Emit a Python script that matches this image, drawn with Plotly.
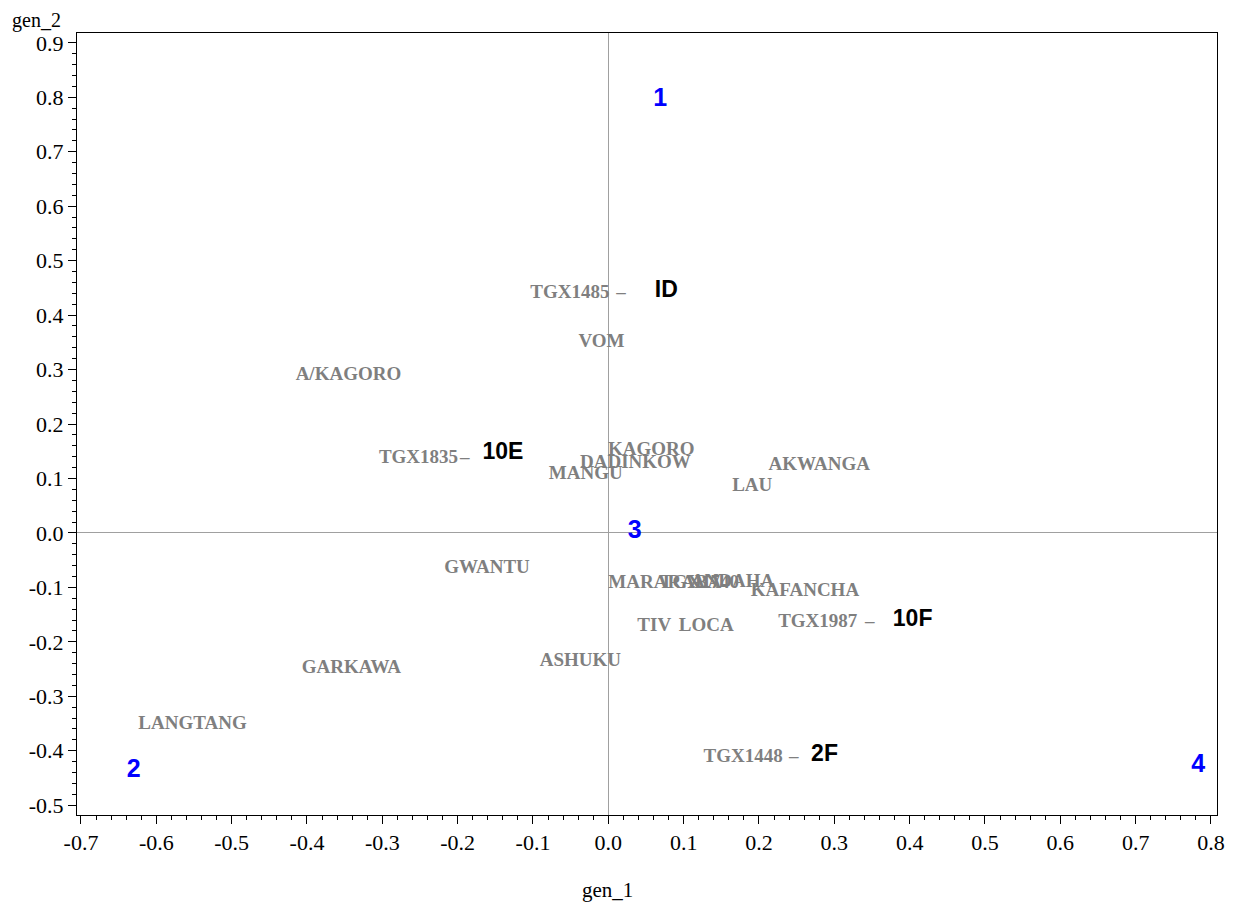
import plotly.graph_objects as go

# Gray point labels (genotypes / locations)
point_labels = ["TGX1485", "VOM", "A/KAGORO", "TGX1835", "KAGORO", "DADINKOW", "MANGU",
                "AKWANGA", "LAU", "GWANTU", "MARARABA", "TGX1740", "ANDAHA", "KAFANCHA",
                "TIV", "LOCA", "TGX1987", "ASHUKU", "GARKAWA", "LANGTANG", "TGX1448"]
point_x = [-0.051, -0.009, -0.345, -0.252, 0.057, 0.036, -0.030,
           0.280, 0.191, -0.161, 0.075, 0.121, 0.165, 0.261,
           0.061, 0.130, 0.278, -0.037, -0.341, -0.552, 0.179]
point_y = [0.441, 0.350, 0.290, 0.138, 0.152, 0.128, 0.108,
           0.125, 0.086, -0.064, -0.092, -0.092, -0.090, -0.107,
           -0.171, -0.171, -0.164, -0.235, -0.248, -0.351, -0.412]

# Gray dashes pointing to black codes
dash_x = [0.017, -0.1906, 0.347, 0.246]
dash_y = [0.441, 0.138, -0.164, -0.412]

# Black code annotations
code_labels = ["ID", "10E", "10F", "2F"]
code_x = [0.077, -0.140, 0.404, 0.287]
code_y = [0.443, 0.147, -0.161, -0.408]

# Blue numbered labels
num_labels = ["1", "2", "3", "4"]
num_x = [0.069, -0.630, 0.035, 0.783]
num_y = [0.795, -0.437, 0.002, -0.427]

# Ticks
x_tickvals = [-0.7, -0.6, -0.5, -0.4, -0.3, -0.2, -0.1, 0.0, 0.1, 0.2, 0.3, 0.4, 0.5, 0.6, 0.7, 0.8]
x_ticktext = ["-0.7", "-0.6", "-0.5", "-0.4", "-0.3", "-0.2", "-0.1", "0.0",
              "0.1", "0.2", "0.3", "0.4", "0.5", "0.6", "0.7", "0.8"]
y_tickvals = [-0.5, -0.4, -0.3, -0.2, -0.1, 0.0, 0.1, 0.2, 0.3, 0.4, 0.5, 0.6, 0.7, 0.8, 0.9]
y_ticktext = ["-0.5", "-0.4", "-0.3", "-0.2", "-0.1", "0.0", "0.1", "0.2",
              "0.3", "0.4", "0.5", "0.6", "0.7", "0.8", "0.9"]

gray = "#7f7f7f"
serif = "Liberation Serif, Times New Roman, serif"
sans = "Liberation Sans, Arial, sans-serif"

fig = go.Figure()
fig.add_trace(go.Scatter(x=point_x, y=point_y, text=point_labels, mode="text",
                         textposition="middle center",
                         textfont=dict(family=serif, size=19, color=gray, weight="bold"),
                         showlegend=False, hoverinfo="skip"))
fig.add_trace(go.Scatter(x=dash_x, y=dash_y, text=["–"] * len(dash_x), mode="text",
                         textposition="middle center",
                         textfont=dict(family=serif, size=19, color=gray, weight="bold"),
                         showlegend=False, hoverinfo="skip"))
fig.add_trace(go.Scatter(x=code_x, y=code_y, text=code_labels, mode="text",
                         textposition="middle center",
                         textfont=dict(family=sans, size=23, color="black", weight="bold"),
                         showlegend=False, hoverinfo="skip"))
fig.add_trace(go.Scatter(x=num_x, y=num_y, text=num_labels, mode="text",
                         textposition="middle center",
                         textfont=dict(family=sans, size=25, color="blue", weight="bold"),
                         showlegend=False, hoverinfo="skip"))

axis_common = dict(showgrid=False, showline=True, linecolor="black", linewidth=1,
                   mirror=True, ticks="outside", ticklen=8, tickcolor="black",
                   zeroline=True, zerolinecolor="#a0a0a0", zerolinewidth=1,
                   tickfont=dict(family=serif, size=22, color="black"))

fig.update_xaxes(range=[-0.7053, 0.808], tickvals=x_tickvals, ticktext=x_ticktext,
                 minor=dict(dtick=0.02, tick0=0, ticks="outside", ticklen=4, tickcolor="black"),
                 **axis_common)
fig.update_yaxes(range=[-0.518, 0.918], tickvals=y_tickvals, ticktext=y_ticktext,
                 minor=dict(dtick=0.02, tick0=0, ticks="outside", ticklen=4, tickcolor="black"),
                 **axis_common)

fig.add_annotation(text="gen_1", xref="paper", yref="paper", x=0.4655, y=-0.096,
                   xanchor="center", yanchor="middle",
                   showarrow=False, font=dict(family=serif, size=21, color="black"))
fig.add_annotation(text="gen_2", xref="paper", yref="paper", x=-0.0585, y=1.0155,
                   xanchor="left", yanchor="middle",
                   showarrow=False, font=dict(family=serif, size=20, color="black"))

fig.update_layout(width=1229, height=895, plot_bgcolor="white", paper_bgcolor="white",
                  margin=dict(l=69, r=15, t=25, b=88))

fig.write_html("out.html")
